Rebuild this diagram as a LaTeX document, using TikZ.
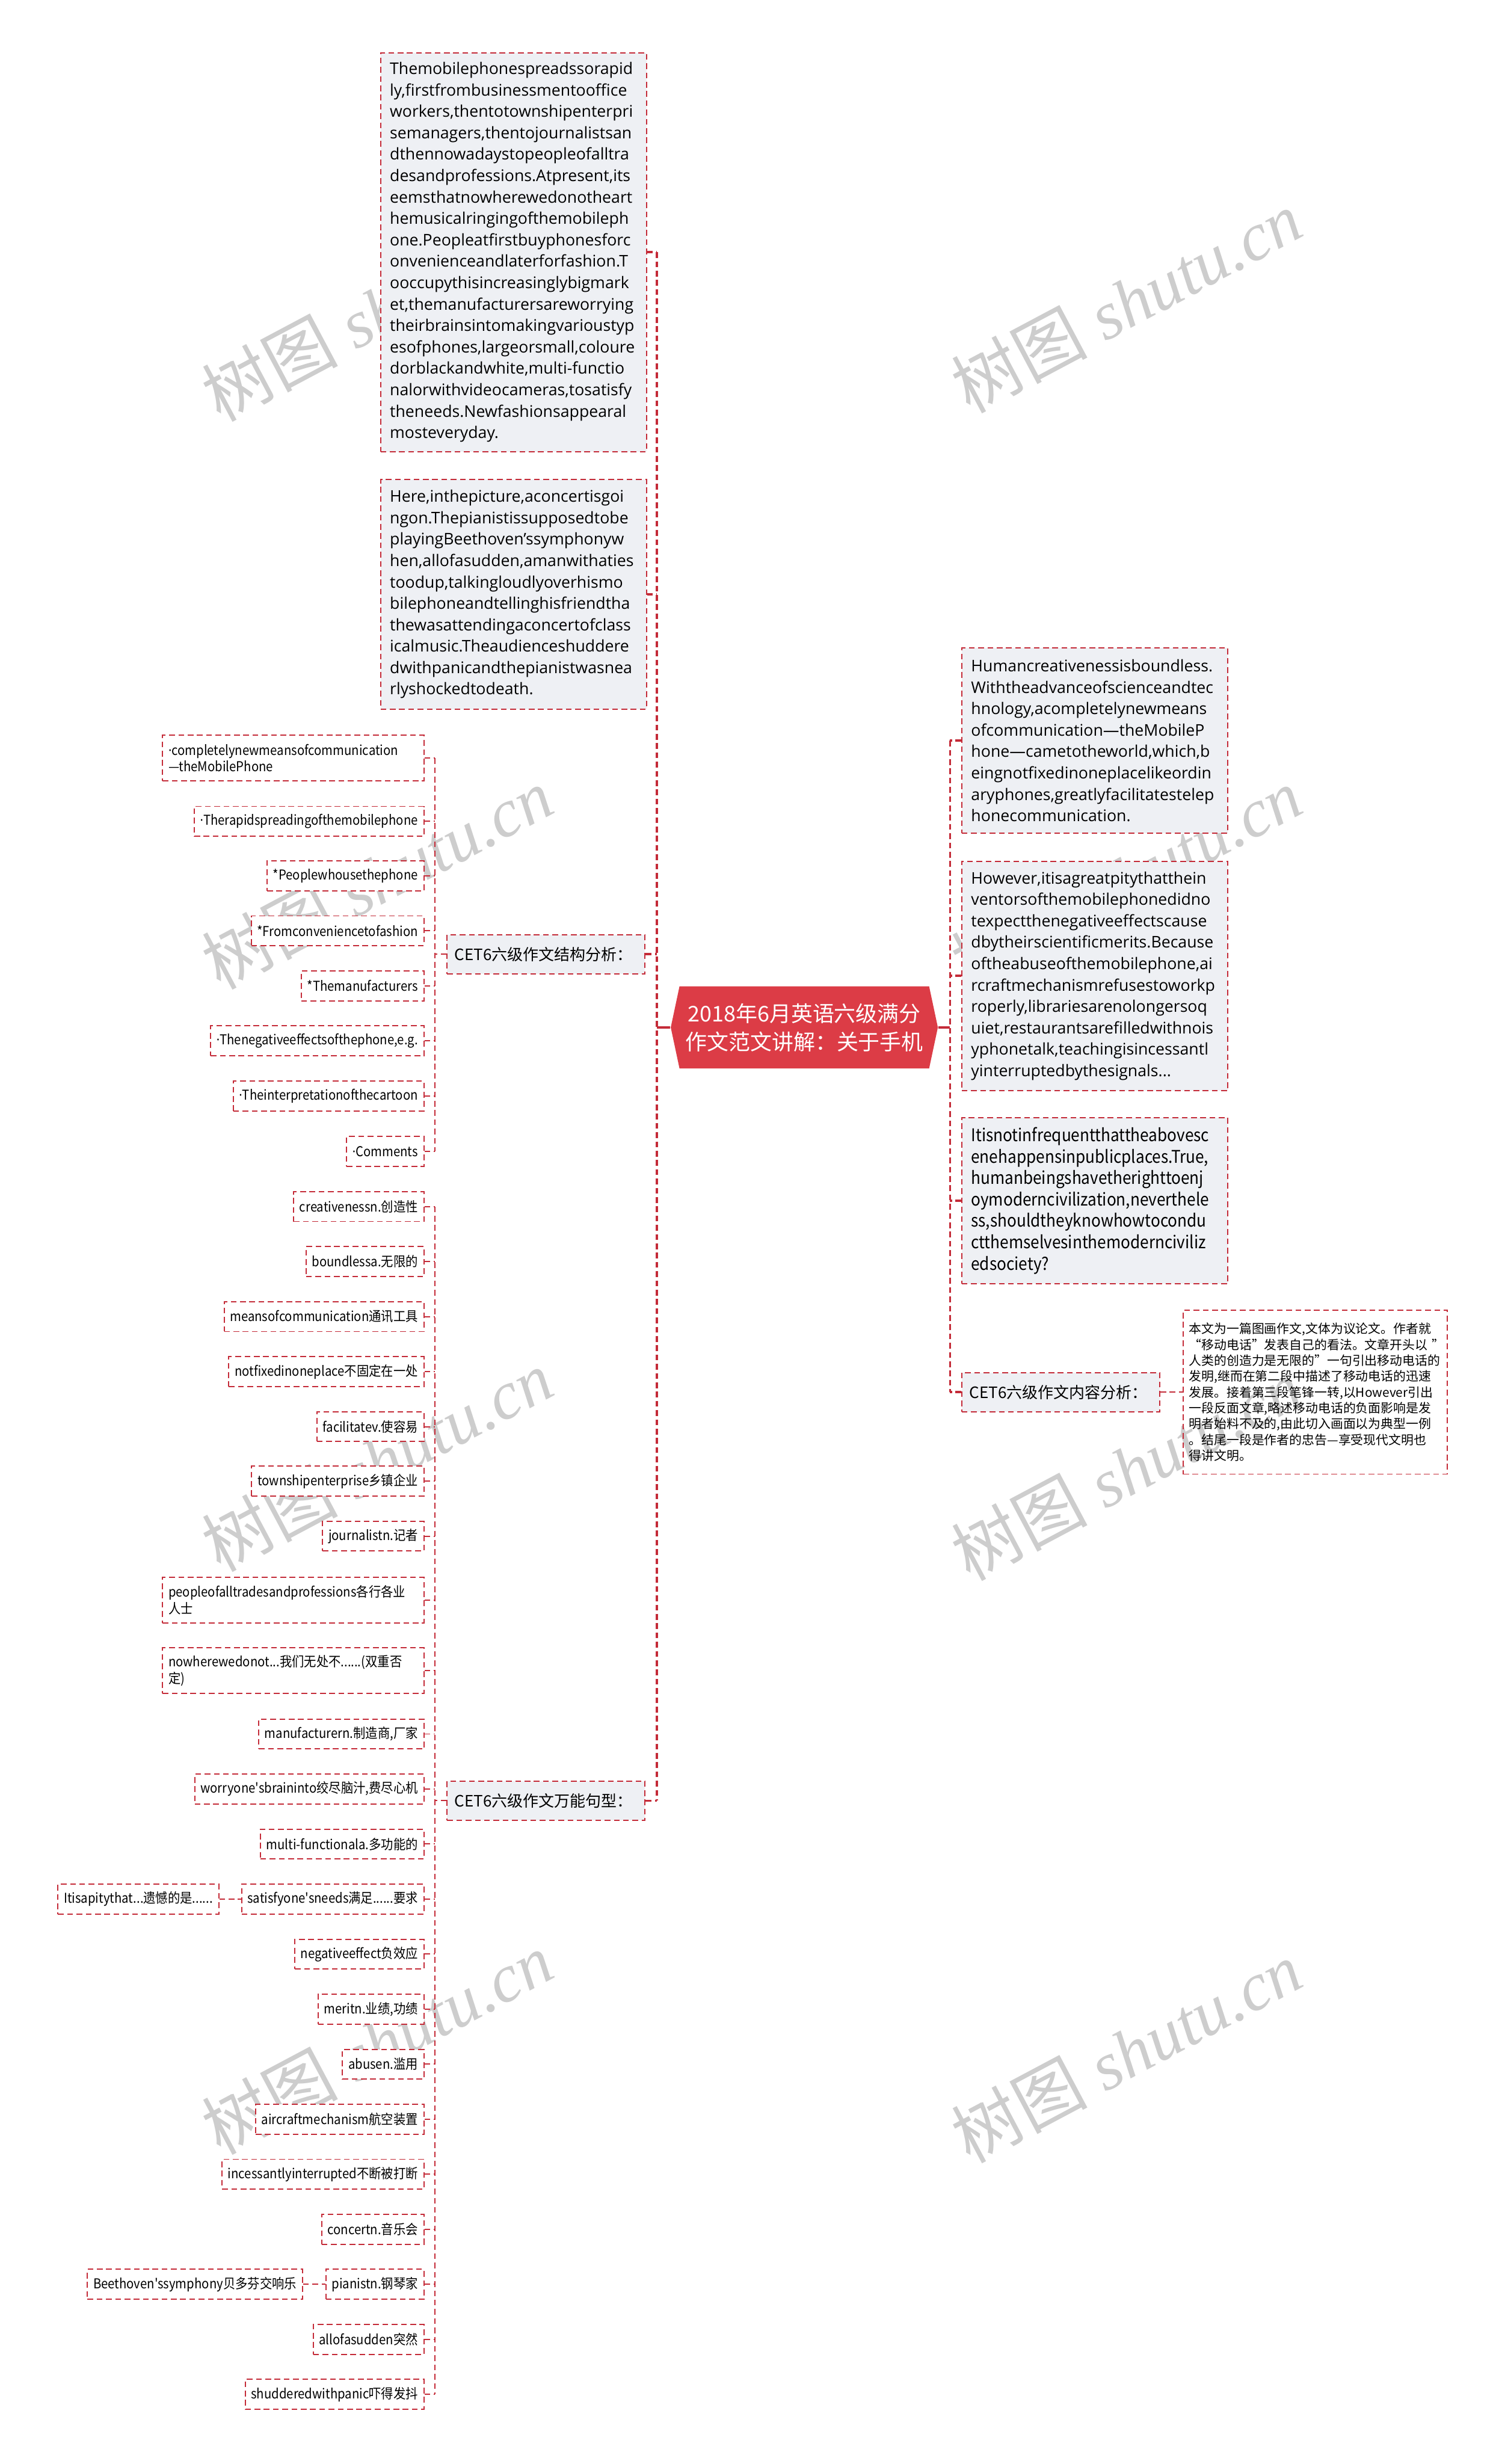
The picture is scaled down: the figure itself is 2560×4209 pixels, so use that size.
\documentclass[tikz,border=0pt]{standalone}
\usepackage{fontspec}
\setmainfont{Open Sans}
\newfontfamily\cjk{Noto Sans CJK SC}
\newfontfamily\cjkn[FakeStretch=0.9]{Noto Sans CJK SC}
\newfontfamily\latn[FakeStretch=0.9]{Open Sans}
\newfontfamily\wmfont{Liberation Serif}
\newcommand{\pdot}{{\latn ·}}
\usetikzlibrary{positioning, shapes.symbols}
\definecolor{lred}{RGB}{196,43,56}
\definecolor{rootred}{RGB}{220,60,70}
\definecolor{pgray}{RGB}{238,240,244}
\definecolor{wmgray}{RGB}{205,205,205}

\begin{document}
\begin{tikzpicture}[
  x=0.01cm, y=-0.01cm,
  node distance=0.38cm,
  dashbox/.style={draw=lred, line width=0.57pt, dash pattern=on 2.8pt off 1.7pt},
  parabox/.style={dashbox, fill=pgray, anchor=north west, align=left,
                  text width=4.22cm, inner xsep=0.16cm,
                  font=\fontsize{7.8}{10.4}\selectfont},
  branch/.style={dashbox, fill=pgray, align=left, text width=3.12cm,
                 inner xsep=0.13cm, minimum height=0.67cm,
                 font=\cjk\fontsize{7.6}{9}\selectfont},
  leafbox/.style={dashbox, fill=white, anchor=east, align=left,
                  inner xsep=0.1cm, minimum height=0.51cm,
                  font=\cjkn\fontsize{6.6}{8}\selectfont},
  titlebox/.style={signal, signal to=west and east, signal pointer angle=156,
                   fill=rootred, text=white, align=center, inner sep=0pt,
                   minimum width=4.56cm, minimum height=1.4cm,
                   font=\cjk\fontsize{10.5}{13.7}\selectfont},
  link/.style={draw=lred, line width=0.57pt, dash pattern=on 2.8pt off 1.7pt},
  trunk/.style={draw=lred, line width=1.1pt, dash pattern=on 2.8pt off 1.7pt},
  wmark/.style={text=wmgray, rotate=28, font=\fontsize{33}{35}\selectfont}
]
\useasboundingbox (0,0) rectangle (2560,4209);

% watermarks, behind everything
\node[wmark] (wm1) at (644,530)  {{\cjk 树图} {\wmfont\itshape shutu.cn}};
\node[wmark] (wm2) at (1924,515) {{\cjk 树图} {\wmfont\itshape shutu.cn}};
\node[wmark] (wm3) at (644,1500) {{\cjk 树图} {\wmfont\itshape shutu.cn}};
\node[wmark] (wm4) at (1924,1500) {{\cjk 树图} {\wmfont\itshape shutu.cn}};
\node[wmark] (wm5) at (644,2495) {{\cjk 树图} {\wmfont\itshape shutu.cn}};
\node[wmark] (wm6) at (1924,2510) {{\cjk 树图} {\wmfont\itshape shutu.cn}};
\node[wmark] (wm7) at (644,3490) {{\cjk 树图} {\wmfont\itshape shutu.cn}};
\node[wmark] (wm8) at (1924,3505) {{\cjk 树图} {\wmfont\itshape shutu.cn}};

% root
\node[titlebox] (title) at (1374,1755) {2018年6月英语六级满分\\作文范文讲解：关于手机};

% left column
\node[parabox, minimum height=6.81cm] (spread) at (649,89)
  {Themobilephonespreadssorapid\\ly,firstfrombusinessmentooffice\\workers,thentotownshipenterpri\\semanagers,thentojournalistsan\\dthennowadaystopeopleofalltra\\desandprofessions.Atpresent,its\\eemsthatnowherewedonotheart\\hemusicalringingofthemobileph\\one.Peopleatfirstbuyphonesforc\\onvenienceandlaterforfashion.T\\ooccupythisincreasinglybigmark\\et,themanufacturersareworrying\\theirbrainsintomakingvarioustyp\\esofphones,largeorsmall,coloure\\dorblackandwhite,multi-functio\\nalorwithvideocameras,tosatisfy\\theneeds.Newfashionsappearal\\mosteveryday.};
\node[parabox, minimum height=3.92cm] (concert) at (649,818)
  {Here,inthepicture,aconcertisgoi\\ngon.Thepianistissupposedtobe\\playingBeethoven'ssymphonyw\\hen,allofasudden,amanwithaties\\toodup,talkingloudlyoverhismo\\bilephoneandtellinghisfriendtha\\thewasattendingaconcertofclass\\icalmusic.Theaudienceshuddere\\dwithpanicandthepianistwasnea\\rlyshockedtodeath.};
\node[branch, anchor=east] (struct) at (1103,1630) {CET6六级作文结构分析：};
\node[branch, anchor=east] (sent) at (1103,3076) {CET6六级作文万能句型：};

% right column
\node[parabox, minimum height=3.16cm] (human) at (1642,1106)
  {Humancreativenessisboundless.\\Withtheadvanceofscienceandtec\\hnology,acompletelynewmeans\\ofcommunication—theMobileP\\hone—cametotheworld,which,b\\eingnotfixedinoneplacelikeordin\\aryphones,greatlyfacilitatestelep\\honecommunication.};
\node[parabox, minimum height=3.92cm] (however) at (1642,1470)
  {However,itisagreatpitythatthein\\ventorsofthemobilephonedidno\\texpectthenegativeeffectscause\\dbytheirscientificmerits.Because\\oftheabuseofthemobilephone,ai\\rcraftmechanismrefusestoworkp\\roperly,librariesarenolongersoq\\uiet,restaurantsarefilledwithnois\\yphonetalk,teachingisincessantl\\yinterruptedbythesignals...};
\node[parabox, minimum height=2.84cm, font=\cjkn\fontsize{8.5}{10.4}\selectfont] (infreq) at (1642,1908)
  {Itisnotinfrequentthattheabovesc\\enehappensinpublicplaces.True,\\humanbeingshavetherighttoenj\\oymoderncivilization,neverthele\\ss,shouldtheyknowhowtocondu\\ctthemselvesinthemodernciviliz\\edsociety?};
\node[branch, anchor=west] (content) at (1642,2378) {CET6六级作文内容分析：};
\node[dashbox, right=0.38cm of content, align=left, text width=4.31cm,
      inner xsep=0.1cm, minimum height=2.8cm,
      font=\cjk\fontsize{6.1}{7.7}\selectfont] (summary)
  {本文为一篇图画作文,文体为议论文。作者就\\“移动电话”发表自己的看法。文章开头以~”\\人类的创造力是无限的”一句引出移动电话的\\发明,继而在第二段中描述了移动电话的迅速\\发展。接着第三段笔锋一转,以However引出\\一段反面文章,略述移动电话的负面影响是发\\明者始料不及的,由此切入画面以为典型一例\\。结尾一段是作者的忠告—享受现代文明也\\得讲文明。};

% structure items
\node[leafbox, text width=4.26cm, minimum height=0.78cm] (newmeans) at (725,1295) {\pdot completelynewmeansofcommunication\\—theMobilePhone};
\node[leafbox] (rapid) at (725,1403) {\pdot Therapidspreadingofthemobilephone};
\node[leafbox] (users) at (725,1496) {*Peoplewhousethephone};
\node[leafbox] (fashion) at (725,1590) {*Fromconveniencetofashion};
\node[leafbox] (makers) at (725,1684) {*Themanufacturers};
\node[leafbox] (negative) at (725,1778) {\pdot Thenegativeeffectsofthephone,e.g.};
\node[leafbox] (cartoon) at (725,1872) {\pdot Theinterpretationofthecartoon};
\node[leafbox] (comments) at (725,1967) {\pdot Comments};

% sentence items
\node[leafbox] (creat) at (725,2061) {creativenessn.创造性};
\node[leafbox] (bound) at (725,2155) {boundlessa.无限的};
\node[leafbox] (means) at (725,2249) {meansofcommunication通讯工具};
\node[leafbox] (notfix) at (725,2343) {notfixedinoneplace不固定在一处};
\node[leafbox] (facil) at (725,2437) {facilitatev.使容易};
\node[leafbox] (township) at (725,2530) {townshipenterprise乡镇企业};
\node[leafbox] (journ) at (725,2624) {journalistn.记者};
\node[leafbox, text width=4.26cm, minimum height=0.78cm] (people) at (725,2733) {peopleofalltradesandprofessions各行各业\\人士};
\node[leafbox, text width=4.26cm, minimum height=0.78cm] (nowhere) at (725,2854) {nowherewedonot...我们无处不......(双重否\\定)};
\node[leafbox] (manuf) at (725,2962) {manufacturern.制造商,厂家};
\node[leafbox] (worry) at (725,3056) {worryone'sbraininto绞尽脑汁,费尽心机};
\node[leafbox] (multi) at (725,3150) {multi-functionala.多功能的};
\node[leafbox] (satisfy) at (725,3244) {satisfyone'sneeds满足......要求};
\node[leafbox, left=0.37cm of satisfy] (pitythat) {Itisapitythat...遗憾的是......};
\node[leafbox] (negeff) at (725,3338) {negativeeffect负效应};
\node[leafbox] (merit) at (725,3432) {meritn.业绩,功绩};
\node[leafbox] (abuse) at (725,3526) {abusen.滥用};
\node[leafbox] (aircraft) at (725,3620) {aircraftmechanism航空装置};
\node[leafbox] (incess) at (725,3714) {incessantlyinterrupted不断被打断};
\node[leafbox] (concertn) at (725,3808) {concertn.音乐会};
\node[leafbox] (pianist) at (725,3902) {pianistn.钢琴家};
\node[leafbox, left=0.38cm of pianist] (beeth) {Beethoven'ssymphony贝多芬交响乐};
\node[leafbox] (sudden) at (725,3996) {allofasudden突然};
\node[leafbox] (shudder) at (725,4090) {shudderedwithpanic吓得发抖};

% trunks
\coordinate (lt) at (1122,1755);
\coordinate (rt) at (1623,1755);
\coordinate (st) at (743,1755);
\draw[lred, line width=1.1pt] (title.west) -- (lt |- title.west);
\draw[lred, line width=1.1pt] (title.east) -- (rt |- title.east);
\draw[trunk] (lt |- spread.east) -- (lt |- sent.east);
\draw[trunk] (rt |- human.west) -- (rt |- content.west);
\draw[trunk] (spread.east) -- (lt |- spread.east);
\draw[trunk] (concert.east) -- (lt |- concert.east);
\draw[trunk] (struct.east) -- (lt |- struct.east);
\draw[trunk] (sent.east) -- (lt |- sent.east);
\draw[trunk] (human.west) -- (rt |- human.west);
\draw[trunk] (however.west) -- (rt |- however.west);
\draw[trunk] (infreq.west) -- (rt |- infreq.west);
\draw[trunk] (content.west) -- (rt |- content.west);
\draw[link] (content) -- (summary);

% structure branch
\draw[link] (st |- newmeans.east) -- (st |- comments.east);
\draw[link] (struct.west) -- (st |- struct.west);
\draw[link] (newmeans.east) -- (st |- newmeans.east);
\draw[link] (rapid.east) -- (st |- rapid.east);
\draw[link] (users.east) -- (st |- users.east);
\draw[link] (fashion.east) -- (st |- fashion.east);
\draw[link] (makers.east) -- (st |- makers.east);
\draw[link] (negative.east) -- (st |- negative.east);
\draw[link] (cartoon.east) -- (st |- cartoon.east);
\draw[link] (comments.east) -- (st |- comments.east);

% sentence branch
\draw[link] (st |- creat.east) -- (st |- shudder.east);
\draw[link] (sent.west) -- (st |- sent.west);
\draw[link] (creat.east) -- (st |- creat.east);
\draw[link] (bound.east) -- (st |- bound.east);
\draw[link] (means.east) -- (st |- means.east);
\draw[link] (notfix.east) -- (st |- notfix.east);
\draw[link] (facil.east) -- (st |- facil.east);
\draw[link] (township.east) -- (st |- township.east);
\draw[link] (journ.east) -- (st |- journ.east);
\draw[link] (people.east) -- (st |- people.east);
\draw[link] (nowhere.east) -- (st |- nowhere.east);
\draw[link] (manuf.east) -- (st |- manuf.east);
\draw[link] (worry.east) -- (st |- worry.east);
\draw[link] (multi.east) -- (st |- multi.east);
\draw[link] (satisfy.east) -- (st |- satisfy.east);
\draw[link] (pitythat) -- (satisfy);
\draw[link] (negeff.east) -- (st |- negeff.east);
\draw[link] (merit.east) -- (st |- merit.east);
\draw[link] (abuse.east) -- (st |- abuse.east);
\draw[link] (aircraft.east) -- (st |- aircraft.east);
\draw[link] (incess.east) -- (st |- incess.east);
\draw[link] (concertn.east) -- (st |- concertn.east);
\draw[link] (pianist.east) -- (st |- pianist.east);
\draw[link] (beeth) -- (pianist);
\draw[link] (sudden.east) -- (st |- sudden.east);
\draw[link] (shudder.east) -- (st |- shudder.east);
\end{tikzpicture}
\end{document}
